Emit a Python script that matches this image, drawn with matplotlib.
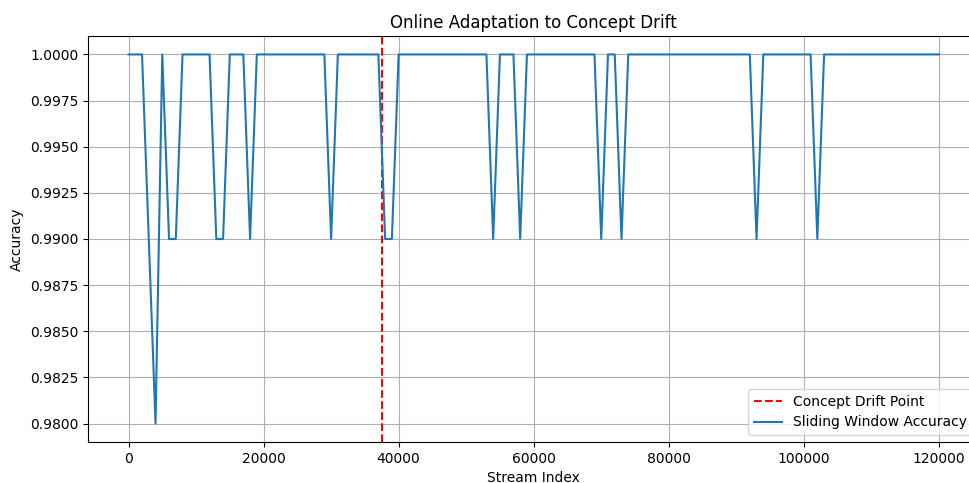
import matplotlib
matplotlib.use("Agg")
import matplotlib.pyplot as plt
from matplotlib.transforms import Bbox

# sliding-window accuracy, vertices
stream_index = [0, 2000, 4000, 5000, 6000, 7000, 8000, 12000, 13000, 14000,
                15000, 17000, 18000, 19000, 29000, 30000, 31000, 37000, 38000,
                39000, 40000, 53000, 54000, 55000, 57000, 58000, 59000, 69000,
                70000, 71000, 72000, 73000, 74000, 92000, 93000, 94000, 101000,
                102000, 103000, 120000]
accuracy = [1.0, 1.0, 0.98, 1.0, 0.99, 0.99, 1.0, 1.0, 0.99, 0.99,
            1.0, 1.0, 0.99, 1.0, 1.0, 0.99, 1.0, 1.0, 0.99,
            0.99, 1.0, 1.0, 0.99, 1.0, 1.0, 0.99, 1.0, 1.0,
            0.99, 1.0, 1.0, 0.99, 1.0, 1.0, 0.99, 1.0, 1.0,
            0.99, 1.0, 1.0]
drift_point = 37600

# the reference is cropped on the right, so draw wider and crop on save
fig = plt.figure(figsize=(10.0, 4.83), dpi=100)
ax = fig.add_axes([0.088, 0.0849, 0.8914, 0.8406])

ax.axvline(drift_point, color='red', linestyle='--', label='Concept Drift Point')
ax.plot(stream_index, accuracy, label='Sliding Window Accuracy')

ax.set_title("Online Adaptation to Concept Drift")
ax.set_xlabel("Stream Index")
ax.set_ylabel("Accuracy")
ax.yaxis.set_major_formatter(matplotlib.ticker.FormatStrFormatter('%.4f'))
ax.legend(loc='lower right')
ax.grid(True)

fig.savefig("out.png", dpi=100, bbox_inches=Bbox.from_bounds(0, 0, 9.7, 4.83))
